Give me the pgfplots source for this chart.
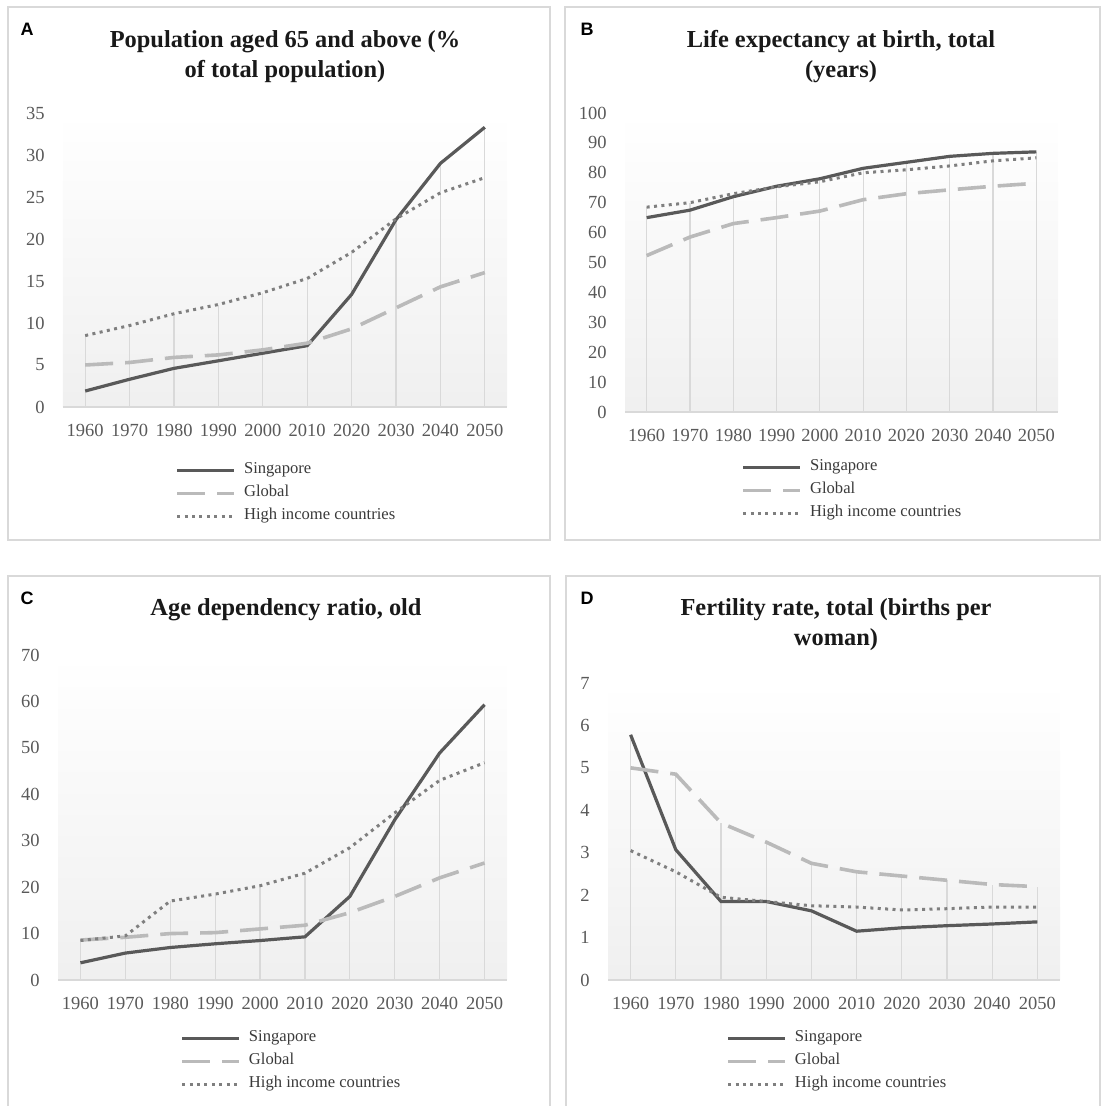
\documentclass[border=0pt]{standalone}
\usepackage{pgfplots}
\pgfplotsset{compat=1.18}
\usepackage{fontspec}
\setmainfont{Liberation Serif}
\newfontfamily\arialfont{Liberation Sans}
\definecolor{singc}{HTML}{595959}
\definecolor{globc}{HTML}{BABABA}
\definecolor{highc}{HTML}{7F7F7F}
\definecolor{framec}{HTML}{D9D9D9}
\definecolor{dropc}{HTML}{D9D9D9}
\definecolor{tickc}{HTML}{595959}
\definecolor{legc}{HTML}{3A3A3A}
\pgfplotsset{
 panel/.style={
  scale only axis, clip=false,
  xmin=-0.5, xmax=9.5, ymin=0,
  xtick={0,...,9},
  xticklabels={1960,1970,1980,1990,2000,2010,2020,2030,2040,2050},
  axis x line*=bottom, axis y line*=left,
  y axis line style={draw=none},
  x axis line style={draw=framec, line width=0.8pt, -},
  major tick length=0pt,
  /pgf/number format/assume math mode=true,
  tick label style={font=\fontsize{9.25}{10}\selectfont, text=tickc},
  yticklabel style={inner sep=0pt, xshift=-9pt},
  xticklabel style={inner sep=0pt, yshift=-8.5pt},
  axis background/.style={shade, top color=white, bottom color=black!6},
  legend cell align=left,
  legend image code/.code={\draw[##1] (0pt,0pt) -- (28.5pt,0pt);},
  legend style={anchor=north west, draw=none, fill=none, inner sep=0pt,
    row sep=0pt, font=\fontsize{8.3}{9}\selectfont, text=legc,
    nodes={inner sep=0pt, text height=7.5pt, text depth=4pt, anchor=west},
    /tikz/every odd column/.append style={column sep=4pt}},
 },
 drop/.style={ycomb, draw=dropc, line width=0.6pt, no markers, forget plot},
 sing/.style={singc, line width=1.6pt, no markers},
 glob/.style={globc, line width=1.8pt, dash pattern=on 14pt off 6pt, no markers},
 high/.style={highc, line width=1.5pt, dash pattern=on 1.5pt off 2.2pt, no markers},
}
\begin{document}
\begin{tikzpicture}
\path[use as bounding box] (0pt,0pt) rectangle (553pt,553pt);
\begin{scope}[x=0.5pt, y=-0.5pt, yshift=553pt]
 \draw[framec, line width=0.6pt] (8,7) rectangle (550,540);
 \draw[framec, line width=0.6pt] (565,7) rectangle (1100,540);
 \draw[framec, line width=0.6pt] (8,1110) -- (8,576) -- (550,576) -- (550,1110);
 \draw[framec, line width=0.6pt] (566,1110) -- (566,576) -- (1100,576) -- (1100,1110);
 \node[font=\arialfont\bfseries\fontsize{9}{10}\selectfont] at (27,29) {A};
 \node[font=\arialfont\bfseries\fontsize{9}{10}\selectfont] at (587,29) {B};
 \node[font=\arialfont\bfseries\fontsize{9}{10}\selectfont] at (27,598) {C};
 \node[font=\arialfont\bfseries\fontsize{9}{10}\selectfont] at (587,598) {D};
 \node[font=\bfseries\fontsize{12.2}{15}\selectfont, align=center, text=black!90] at (285,57) {Population aged 65 and above (\%\\of total population)};
 \node[font=\bfseries\fontsize{12.2}{15}\selectfont, align=center, text=black!90] at (841,57) {Life expectancy at birth, total\\(years)};
 \node[font=\bfseries\fontsize{12.2}{15}\selectfont, align=center, text=black!90] at (286,610) {Age dependency ratio, old};
 \node[font=\bfseries\fontsize{12.2}{15}\selectfont, align=center, text=black!90] at (836,625) {Fertility rate, total (births per\\woman)};
\end{scope}

% Panel A
\begin{axis}[panel, at={(31.5pt,349.5pt)}, anchor=south west, width=222pt, height=147pt,
  ymax=35, ytick={0,5,...,35},
  legend style={at={(rel axis cs:0.2523,-0.175)}}]
\addplot[drop] coordinates {(0,8.5)(1,9.7)(2,11.1)(3,12.2)(4,13.6)(5,15.3)(6,18.5)(7,22.4)(8,29.0)(9,33.3)};
\addplot[sing] coordinates {(0,1.9)(1,3.3)(2,4.6)(3,5.5)(4,6.4)(5,7.3)(6,13.4)(7,22.3)(8,29.0)(9,33.3)};
\addplot[glob] coordinates {(0,5.0)(1,5.3)(2,5.9)(3,6.2)(4,6.8)(5,7.6)(6,9.3)(7,11.8)(8,14.3)(9,16.0)};
\addplot[high] coordinates {(0,8.5)(1,9.7)(2,11.1)(3,12.2)(4,13.6)(5,15.3)(6,18.4)(7,22.4)(8,25.5)(9,27.3)};
\legend{Singapore,Global,High income countries}
\end{axis}

% Panel B
\begin{axis}[panel, at={(312.5pt,347pt)}, anchor=south west, width=216.5pt, height=149.5pt,
  ymax=100, ytick={0,10,...,100},
  legend style={at={(rel axis cs:0.268,-0.1455)}}]
\addplot[drop] coordinates {(0,68.5)(1,70)(2,73)(3,75.5)(4,78)(5,81.5)(6,83.5)(7,85.5)(8,86.5)(9,87)};
\addplot[sing] coordinates {(0,65)(1,67.5)(2,72)(3,75.5)(4,78)(5,81.5)(6,83.5)(7,85.5)(8,86.5)(9,87)};
\addplot[glob] coordinates {(0,52.3)(1,58.5)(2,63)(3,65)(4,67.2)(5,71)(6,73)(7,74.3)(8,75.5)(9,76.5)};
\addplot[high] coordinates {(0,68.5)(1,70)(2,73)(3,75.3)(4,77)(5,80)(6,81)(7,82.3)(8,84)(9,85)};
\legend{Singapore,Global,High income countries}
\end{axis}

% Panel C
\begin{axis}[panel, at={(29pt,63pt)}, anchor=south west, width=224.5pt, height=162.5pt,
  ymax=70, ytick={0,10,...,70},
  legend style={at={(rel axis cs:0.2717,-0.143)}}]
\addplot[drop] coordinates {(0,8.6)(1,9.5)(2,17)(3,18.5)(4,20.3)(5,23)(6,28.5)(7,36)(8,48.9)(9,59.3)};
\addplot[sing] coordinates {(0,3.7)(1,5.8)(2,7.0)(3,7.8)(4,8.5)(5,9.3)(6,18)(7,34.5)(8,48.9)(9,59.3)};
\addplot[glob] coordinates {(0,8.6)(1,9.2)(2,10)(3,10.2)(4,11)(5,11.8)(6,14.5)(7,18)(8,22)(9,25.2)};
\addplot[high] coordinates {(0,8.5)(1,9.5)(2,17)(3,18.5)(4,20.3)(5,23)(6,28.5)(7,36)(8,43)(9,46.8)};
\legend{Singapore,Global,High income countries}
\end{axis}

% Panel D
\begin{axis}[panel, at={(304pt,63pt)}, anchor=south west, width=226pt, height=148.5pt,
  ymax=7, ytick={0,1,...,7},
  legend style={at={(rel axis cs:0.261,-0.1566)}}]
\addplot[drop] coordinates {(0,5.78)(1,4.85)(2,3.7)(3,3.25)(4,2.75)(5,2.55)(6,2.45)(7,2.35)(8,2.25)(9,2.2)};
\addplot[sing] coordinates {(0,5.78)(1,3.07)(2,1.85)(3,1.85)(4,1.63)(5,1.15)(6,1.23)(7,1.28)(8,1.32)(9,1.37)};
\addplot[glob] coordinates {(0,5.0)(1,4.85)(2,3.7)(3,3.25)(4,2.75)(5,2.55)(6,2.45)(7,2.35)(8,2.25)(9,2.2)};
\addplot[high] coordinates {(0,3.05)(1,2.55)(2,1.95)(3,1.85)(4,1.75)(5,1.72)(6,1.65)(7,1.68)(8,1.72)(9,1.72)};
\legend{Singapore,Global,High income countries}
\end{axis}
\end{tikzpicture}
\end{document}
